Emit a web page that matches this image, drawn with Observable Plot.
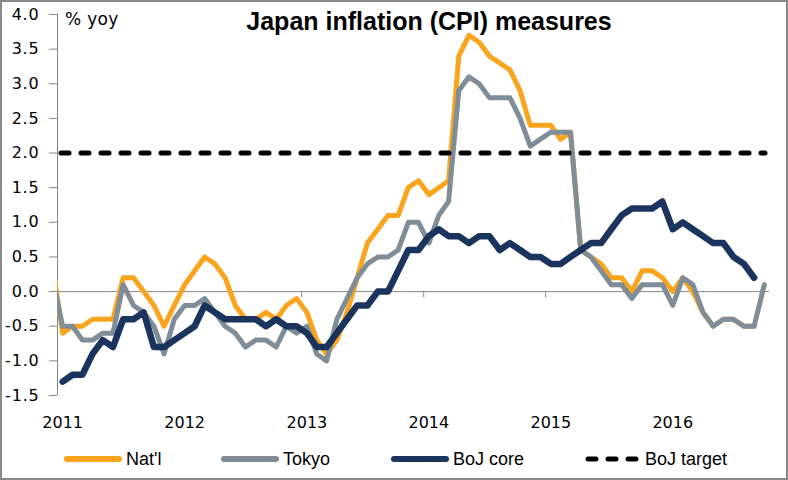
<!DOCTYPE html>
<html>
<head>
<meta charset="utf-8">
<script src="https://cdn.jsdelivr.net/npm/d3@7"></script>
<script src="https://cdn.jsdelivr.net/npm/@observablehq/plot@0.6"></script>
<style>
  body { margin: 0; background: #fff; }
  #wrap { position: relative; width: 788px; height: 480px; overflow: hidden; background: #fff; }
  #chart { position: absolute; left: 0; top: 0; }
  #frame { position: absolute; left: 0; top: 0; width: 788px; height: 480px; box-sizing: border-box; border: 2px solid #8a8a8a; pointer-events: none; }
  #title { position: absolute; left: 0; width: 858px; top: 7px; text-align: center; font: bold 25px "Liberation Sans", Arial, sans-serif; color: #000; white-space: nowrap; }
  #unit { position: absolute; left: 65px; top: 9px; font: 17px "DejaVu Sans", sans-serif; letter-spacing: 0.3px; color: #000; }
  .leg { position: absolute; top: 447px; height: 24px; display: flex; align-items: center; font: 18px "Liberation Sans", Arial, sans-serif; color: #000; white-space: nowrap; }
  .leg svg { margin-right: 4px; }
  .ytick text { letter-spacing: 0.8px; }
</style>
</head>
<body>
<div id="wrap">
  <div id="chart"></div>
  <div id="title"></div>
  <div id="unit"></div>
  <div id="legend"></div>
  <div id="frame"></div>
</div>
<script>
// ---- Data (monthly, Dec 2010 .. Oct 2016; null = no observation) ----
const titleText = "Japan inflation (CPI) measures";
const unitText = "% yoy";
const seriesNames = ["Nat'l", "Tokyo", "BoJ core", "BoJ target"];
const seriesColors = ["#F9A41C", "#7F8D99", "#1B345D", "#000000"];

const firstMonth = "2010-12";
const lastMonth = "2016-10";

const natl = [
  0.4,
  -0.6, -0.5, -0.5, -0.4, -0.4, -0.4, 0.2, 0.2, 0.0, -0.2, -0.5, -0.2,
  0.1, 0.3, 0.5, 0.4, 0.2, -0.2, -0.4, -0.4, -0.3, -0.4, -0.2, -0.1,
  -0.3, -0.7, -0.9, -0.7, -0.3, 0.2, 0.7, 0.9, 1.1, 1.1, 1.5, 1.6,
  1.4, 1.5, 1.6, 3.4, 3.7, 3.6, 3.4, 3.3, 3.2, 2.9, 2.4, 2.4,
  2.4, 2.2, 2.3, 0.6, 0.5, 0.4, 0.2, 0.2, 0.0, 0.3, 0.3, 0.2,
  0.0, 0.2, 0.0, -0.3, -0.5, -0.4, -0.4, -0.5, -0.5, null
];
const tokyo = [
  0.2,
  -0.5, -0.5, -0.7, -0.7, -0.6, -0.6, 0.1, -0.2, -0.3, -0.5, -0.9, -0.4,
  -0.2, -0.2, -0.1, -0.3, -0.5, -0.6, -0.8, -0.7, -0.7, -0.8, -0.5, -0.6,
  -0.5, -0.9, -1.0, -0.4, -0.1, 0.2, 0.4, 0.5, 0.5, 0.6, 1.0, 1.0,
  0.7, 1.1, 1.3, 2.9, 3.1, 3.0, 2.8, 2.8, 2.8, 2.5, 2.1, 2.2,
  2.3, 2.3, 2.3, 0.6, 0.5, 0.3, 0.1, 0.1, -0.1, 0.1, 0.1, 0.1,
  -0.2, 0.2, 0.1, -0.3, -0.5, -0.4, -0.4, -0.5, -0.5, 0.1
];
const bojCore = [
  null,
  -1.3, -1.2, -1.2, -0.9, -0.7, -0.8, -0.4, -0.4, -0.3, -0.8, -0.8, -0.7,
  -0.6, -0.5, -0.2, -0.3, -0.4, -0.4, -0.4, -0.4, -0.5, -0.4, -0.5, -0.5,
  -0.6, -0.8, -0.8, -0.6, -0.4, -0.2, -0.2, 0.0, 0.0, 0.3, 0.6, 0.6,
  0.8, 0.9, 0.8, 0.8, 0.7, 0.8, 0.8, 0.6, 0.7, 0.6, 0.5, 0.5,
  0.4, 0.4, 0.5, 0.6, 0.7, 0.7, 0.9, 1.1, 1.2, 1.2, 1.2, 1.3,
  0.9, 1.0, 0.9, 0.8, 0.7, 0.7, 0.5, 0.4, 0.2, null
];
const bojTarget = [2.0];

const yTicks = [-1.5, -1.0, -0.5, 0.0, 0.5, 1.0, 1.5, 2.0, 2.5, 3.0, 3.5, 4.0];
const yearLabels = ["2011", "2012", "2013", "2014", "2015", "2016"];
const xDomain = ["2011-01", "2016-11"];

// ---- Build tables ----
const parseM = d3.utcParse("%Y-%m");
const monthStarts = d3.utcMonth.range(parseM(firstMonth), d3.utcMonth.offset(parseM(lastMonth), 1));
const mid = m => new Date((+m + +d3.utcMonth.offset(m, 1)) / 2);
const rows = (vals) => monthStarts.map((m, i) => ({date: mid(m), value: vals[i]})).filter(d => d.value != null);

const yearStarts = yearLabels.map(y => parseM(y + "-01"));
const yearMids = yearStarts.map(mid);

const GRID = "#868686";
const FONT = "'DejaVu Sans', sans-serif";

const chart = Plot.plot({
  width: 788,
  height: 480,
  marginLeft: 57,
  marginRight: 19,
  marginTop: 14,
  marginBottom: 85,
  x: {type: "utc", domain: xDomain.map(parseM)},
  y: {domain: [-1.5, 4.0]},
  style: {fontFamily: FONT, fontSize: "16px", color: "#000", background: "transparent"},
  marks: [
    Plot.axisY({ticks: yTicks, tickFormat: d => d.toFixed(1), tickSize: 8, tickPadding: 10, stroke: GRID, fill: "#000", fontSize: 16, fontFamily: FONT, label: null, className: "ytick"}),
    Plot.ruleX([parseM(xDomain[0])], {stroke: GRID, strokeWidth: 1}),
    Plot.ruleY([0], {stroke: GRID, strokeWidth: 1}),
    Plot.ruleX(yearStarts, {y1: 0, y2: -0.09, stroke: GRID, strokeWidth: 1}),
    Plot.axisX({ticks: yearMids, tickFormat: d3.utcFormat("%Y"), tickSize: 0, tickPadding: 21, fill: "#000", fontSize: 16, fontFamily: FONT, label: null}),
    Plot.line(rows(natl), {x: "date", y: "value", stroke: seriesColors[0], strokeWidth: 5, strokeLinejoin: "round", strokeLinecap: "round", clip: true}),
    Plot.line(rows(tokyo), {x: "date", y: "value", stroke: seriesColors[1], strokeWidth: 5, strokeLinejoin: "round", strokeLinecap: "round", clip: true}),
    Plot.line(rows(bojCore), {x: "date", y: "value", stroke: seriesColors[2], strokeWidth: 6.5, strokeLinejoin: "round", strokeLinecap: "round", clip: true}),
    Plot.ruleY(bojTarget, {stroke: seriesColors[3], strokeWidth: 5, strokeDasharray: "8,12", strokeLinecap: "round", insetLeft: 4, insetRight: 4})
  ]
});
document.getElementById("chart").appendChild(chart);
document.getElementById("title").textContent = titleText;
document.getElementById("unit").textContent = unitText;

// ---- Legend ----
const legendLeft = [64, 221, 391, 585];
const legend = document.getElementById("legend");
seriesNames.forEach((name, i) => {
  const item = document.createElement("div");
  item.className = "leg";
  item.style.left = legendLeft[i] + "px";
  const dashed = i === 3;
  const w = dashed ? 56 : 58;
  const ns = "http://www.w3.org/2000/svg";
  const svg = document.createElementNS(ns, "svg");
  svg.setAttribute("width", w);
  svg.setAttribute("height", 10);
  const ln = document.createElementNS(ns, "line");
  ln.setAttribute("x1", 3); ln.setAttribute("x2", w - 3);
  ln.setAttribute("y1", 5); ln.setAttribute("y2", 5);
  ln.setAttribute("stroke", seriesColors[i]);
  ln.setAttribute("stroke-width", dashed ? 5 : 6);
  ln.setAttribute("stroke-linecap", "round");
  if (dashed) ln.setAttribute("stroke-dasharray", "8,12");
  svg.appendChild(ln);
  item.appendChild(svg);
  const t = document.createElement("span");
  t.textContent = name;
  item.appendChild(t);
  legend.appendChild(item);
});
</script>
</body>
</html>
